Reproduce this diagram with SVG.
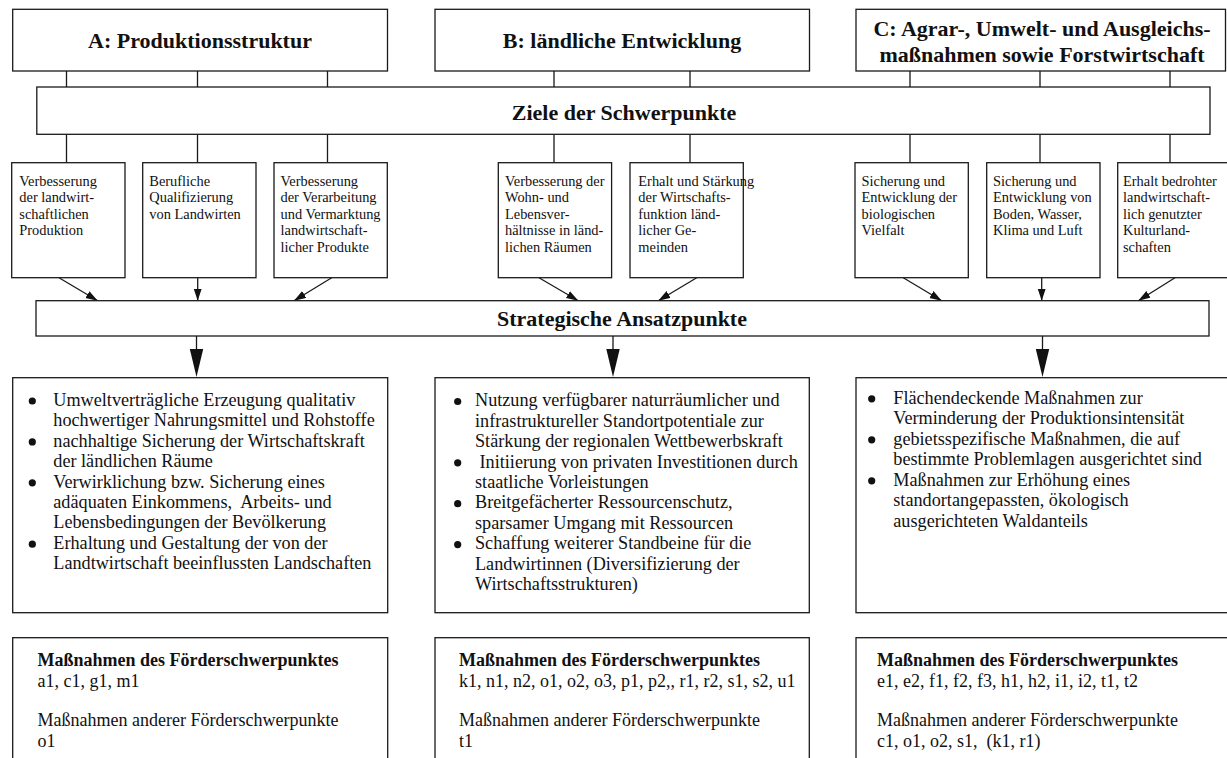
<svg xmlns="http://www.w3.org/2000/svg" width="1227" height="758" viewBox="0 0 1227 758">
<style>
text{font-family:"Liberation Serif","Times New Roman",serif;fill:#111;white-space:pre}
.box{fill:#fff;stroke:#1a1a1a;stroke-width:1.3}
.hd{font-weight:bold;font-size:22px;text-anchor:middle}
.g{font-size:14.4px}
.b{font-size:18.2px}
.m{font-size:18px}
.mb{font-size:18px;font-weight:bold}
.ln{stroke:#1a1a1a;stroke-width:1.3;fill:none}
.bul{fill:#111}
</style>
<defs>
<marker id="ah" markerUnits="userSpaceOnUse" markerWidth="13" markerHeight="9" refX="12" refY="4" orient="auto">
<path d="M0,0 L12,4 L0,8 z" fill="#111"/>
</marker>
</defs>
<rect width="1227" height="758" fill="#fff"/>

<g id="connectors">
<path class="ln" d="M66.5,71V87M197.5,71V87M327.5,71V87M554,71V87M690,71V87M910,71V87M1040,71V87M1170,71V87"/>
<path class="ln" d="M66.5,134.3V162.7M197.5,134.3V162.7M327.5,134.3V162.7M554,134.3V162.7M690,134.3V162.7M910,134.3V162.7M1040,134.3V162.7M1170,134.3V162.7"/>
<line class="ln" x1="59" y1="277.7" x2="97.7" y2="300.7" marker-end="url(#ah)"/>
<line class="ln" x1="197.7" y1="277.7" x2="197.7" y2="300.7" marker-end="url(#ah)"/>
<line class="ln" x1="331.7" y1="277.7" x2="294" y2="300.7" marker-end="url(#ah)"/>
<line class="ln" x1="539" y1="277.7" x2="578.3" y2="300.7" marker-end="url(#ah)"/>
<line class="ln" x1="696.7" y1="277.7" x2="658.3" y2="300.7" marker-end="url(#ah)"/>
<line class="ln" x1="903.3" y1="277.7" x2="941.7" y2="300.7" marker-end="url(#ah)"/>
<line class="ln" x1="1041.7" y1="277.7" x2="1041.7" y2="300.7" marker-end="url(#ah)"/>
<line class="ln" x1="1175" y1="277.7" x2="1138.3" y2="300.7" marker-end="url(#ah)"/>
<path class="ln" d="M196.5,336V350M613,336V350M1042.5,336V350"/>
<polygon points="189.8,349 203.2,349 196.5,377" fill="#111"/>
<polygon points="606.3,349 619.7,349 613,377" fill="#111"/>
<polygon points="1035.8,349 1049.2,349 1042.5,377" fill="#111"/>
</g>

<g id="headerA">
<rect class="box" x="12.7" y="9.3" width="374.8" height="61.7"/>
<text class="hd" x="200" y="47.5">A: Produktionsstruktur</text>
</g>
<g id="headerB">
<rect class="box" x="435" y="9.3" width="374.5" height="61.7"/>
<text class="hd" x="622" y="47.5">B: ländliche Entwicklung</text>
</g>
<g id="headerC">
<rect class="box" x="856" y="9.3" width="369.5" height="61.7"/>
<text class="hd" x="1042" y="36">C: Agrar-, Umwelt- und Ausgleichs-</text>
<text class="hd" x="1042" y="62">maßnahmen sowie Forstwirtschaft</text>
</g>

<g id="ziele">
<rect class="box" x="36.8" y="87" width="1173.2" height="47.3"/>
<text class="hd" x="624" y="120">Ziele der Schwerpunkte</text>
</g>

<g id="goal1">
<rect class="box" x="11.7" y="162.7" width="113.3" height="115"/>
<text class="g" x="19.3" y="185.5">Verbesserung</text>
<text class="g" x="19.3" y="202">der landwirt-</text>
<text class="g" x="19.3" y="218.5">schaftlichen</text>
<text class="g" x="19.3" y="235">Produktion</text>
</g>
<g id="goal2">
<rect class="box" x="142.7" y="162.7" width="113.3" height="115"/>
<text class="g" x="149.3" y="185.5">Berufliche</text>
<text class="g" x="149.3" y="202">Qualifizierung</text>
<text class="g" x="149.3" y="218.5">von Landwirten</text>
</g>
<g id="goal3">
<rect class="box" x="274" y="162.7" width="113.3" height="115"/>
<text class="g" x="280.5" y="185.5">Verbesserung</text>
<text class="g" x="280.5" y="202">der Verarbeitung</text>
<text class="g" x="280.5" y="218.5">und Vermarktung</text>
<text class="g" x="280.5" y="235">landwirtschaft-</text>
<text class="g" x="280.5" y="251.5">licher Produkte</text>
</g>
<g id="goal4">
<rect class="box" x="498.3" y="162.7" width="113.3" height="115"/>
<text class="g" x="505" y="185.5">Verbesserung der</text>
<text class="g" x="505" y="202">Wohn- und</text>
<text class="g" x="505" y="218.5">Lebensver-</text>
<text class="g" x="505" y="235">hältnisse in länd-</text>
<text class="g" x="505" y="251.5">lichen Räumen</text>
</g>
<g id="goal5">
<rect class="box" x="630" y="162.7" width="113.3" height="115"/>
<text class="g" x="638.3" y="185.5">Erhalt und Stärkung</text>
<text class="g" x="638.3" y="202">der Wirtschafts-</text>
<text class="g" x="638.3" y="218.5">funktion länd-</text>
<text class="g" x="638.3" y="235">licher Ge-</text>
<text class="g" x="638.3" y="251.5">meinden</text>
</g>
<g id="goal6">
<rect class="box" x="855" y="162.7" width="113.3" height="115"/>
<text class="g" x="861.5" y="185.5">Sicherung und</text>
<text class="g" x="861.5" y="202">Entwicklung der</text>
<text class="g" x="861.5" y="218.5">biologischen</text>
<text class="g" x="861.5" y="235">Vielfalt</text>
</g>
<g id="goal7">
<rect class="box" x="986.7" y="162.7" width="113.3" height="115"/>
<text class="g" x="993" y="185.5">Sicherung und</text>
<text class="g" x="993" y="202">Entwicklung von</text>
<text class="g" x="993" y="218.5">Boden, Wasser,</text>
<text class="g" x="993" y="235">Klima und Luft</text>
</g>
<g id="goal8">
<rect class="box" x="1117.7" y="162.7" width="113.3" height="115"/>
<text class="g" x="1123" y="185.5">Erhalt bedrohter</text>
<text class="g" x="1123" y="202">landwirtschaft-</text>
<text class="g" x="1123" y="218.5">lich genutzter</text>
<text class="g" x="1123" y="235">Kulturland-</text>
<text class="g" x="1123" y="251.5">schaften</text>
</g>

<g id="strategie">
<rect class="box" x="36" y="300.7" width="1173" height="35.3"/>
<text class="hd" x="622" y="326">Strategische Ansatzpunkte</text>
</g>

<g id="ansatzA">
<rect class="box" x="12.7" y="377.7" width="375" height="235"/>
<circle class="bul" cx="32.3" cy="401" r="3.6"/>
<circle class="bul" cx="32.3" cy="441.9" r="3.6"/>
<circle class="bul" cx="32.3" cy="482.8" r="3.6"/>
<circle class="bul" cx="32.3" cy="544.2" r="3.6"/>
<text class="b" x="53.3" y="405.7">Umweltverträgliche Erzeugung qualitativ</text>
<text class="b" x="53.3" y="426.1">hochwertiger Nahrungsmittel und Rohstoffe</text>
<text class="b" x="53.3" y="446.6">nachhaltige Sicherung der Wirtschaftskraft</text>
<text class="b" x="53.3" y="467">der ländlichen Räume</text>
<text class="b" x="53.3" y="487.5">Verwirklichung bzw. Sicherung eines</text>
<text class="b" x="53.3" y="507.9">adäquaten Einkommens,  Arbeits- und</text>
<text class="b" x="53.3" y="528.4">Lebensbedingungen der Bevölkerung</text>
<text class="b" x="53.3" y="548.8">Erhaltung und Gestaltung der von der</text>
<text class="b" x="53.3" y="569.3">Landtwirtschaft beeinflussten Landschaften</text>
</g>
<g id="ansatzB">
<rect class="box" x="435" y="377.7" width="374.3" height="235"/>
<circle class="bul" cx="457.7" cy="401.5" r="3.6"/>
<circle class="bul" cx="457.7" cy="462.8" r="3.6"/>
<circle class="bul" cx="457.7" cy="503.7" r="3.6"/>
<circle class="bul" cx="457.7" cy="544.6" r="3.6"/>
<text class="b" x="475" y="406.2">Nutzung verfügbarer naturräumlicher und</text>
<text class="b" x="475" y="426.6">infrastruktureller Standortpotentiale zur</text>
<text class="b" x="475" y="447.1">Stärkung der regionalen Wettbewerbskraft</text>
<text class="b" x="475" y="467.5"> Initiierung von privaten Investitionen durch</text>
<text class="b" x="475" y="488">staatliche Vorleistungen</text>
<text class="b" x="475" y="508.4">Breitgefächerter Ressourcenschutz,</text>
<text class="b" x="475" y="528.9">sparsamer Umgang mit Ressourcen</text>
<text class="b" x="475" y="549.3">Schaffung weiterer Standbeine für die</text>
<text class="b" x="475" y="569.8">Landwirtinnen (Diversifizierung der</text>
<text class="b" x="475" y="590.2">Wirtschaftsstrukturen)</text>
</g>
<g id="ansatzC">
<rect class="box" x="856" y="377.7" width="376" height="235"/>
<circle class="bul" cx="871.7" cy="398.8" r="3.6"/>
<circle class="bul" cx="871.7" cy="439.8" r="3.6"/>
<circle class="bul" cx="871.7" cy="480.8" r="3.6"/>
<text class="b" x="893.3" y="403.5">Flächendeckende Maßnahmen zur</text>
<text class="b" x="893.3" y="424">Verminderung der Produktionsintensität</text>
<text class="b" x="893.3" y="444.5">gebietsspezifische Maßnahmen, die auf</text>
<text class="b" x="893.3" y="465">bestimmte Problemlagen ausgerichtet sind</text>
<text class="b" x="893.3" y="485.5">Maßnahmen zur Erhöhung eines</text>
<text class="b" x="893.3" y="506">standortangepassten, ökologisch</text>
<text class="b" x="893.3" y="526.5">ausgerichteten Waldanteils</text>
</g>

<g id="massnahmenA">
<rect class="box" x="12.7" y="637.7" width="375" height="140"/>
<text class="mb" x="37.5" y="666">Maßnahmen des Förderschwerpunktes</text>
<text class="m" x="37.5" y="686.5">a1, c1, g1, m1</text>
<text class="m" x="37.5" y="726">Maßnahmen anderer Förderschwerpunkte</text>
<text class="m" x="37.5" y="746.5">o1</text>
</g>
<g id="massnahmenB">
<rect class="box" x="435" y="637.7" width="374.3" height="140"/>
<text class="mb" x="459" y="666">Maßnahmen des Förderschwerpunktes</text>
<text class="m" x="459" y="686.5">k1, n1, n2, o1, o2, o3, p1, p2,, r1, r2, s1, s2, u1</text>
<text class="m" x="459" y="726">Maßnahmen anderer Förderschwerpunkte</text>
<text class="m" x="459" y="746.5">t1</text>
</g>
<g id="massnahmenC">
<rect class="box" x="856" y="637.7" width="376" height="140"/>
<text class="mb" x="877" y="666">Maßnahmen des Förderschwerpunktes</text>
<text class="m" x="877" y="686.5">e1, e2, f1, f2, f3, h1, h2, i1, i2, t1, t2</text>
<text class="m" x="877" y="726">Maßnahmen anderer Förderschwerpunkte</text>
<text class="m" x="877" y="746.5">c1, o1, o2, s1,  (k1, r1)</text>
</g>
</svg>
